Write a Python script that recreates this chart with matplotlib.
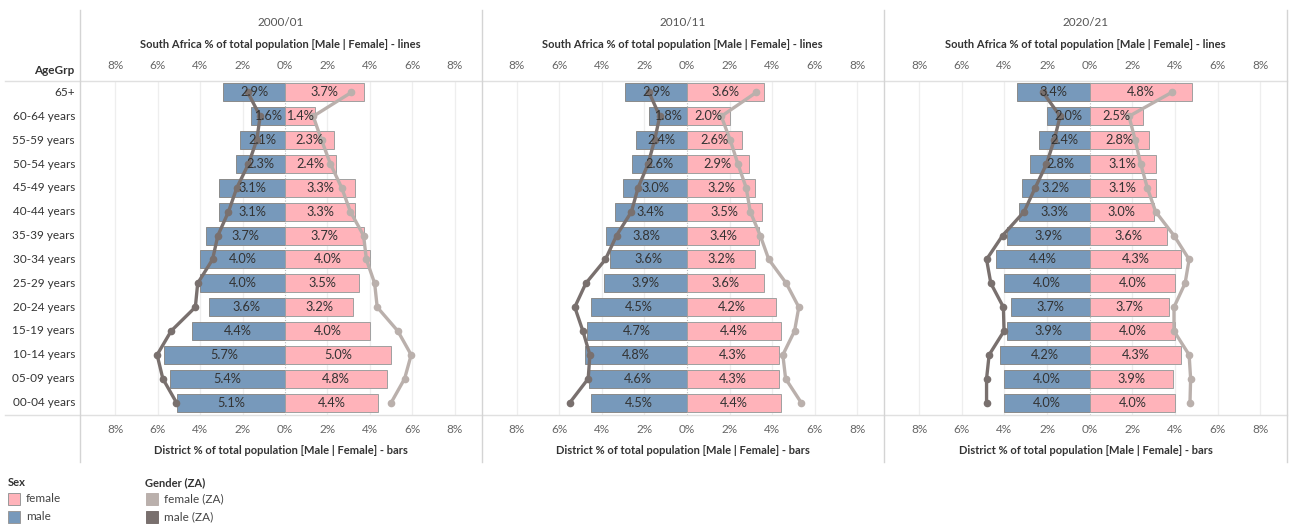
import numpy as np
import matplotlib
matplotlib.use("Agg")
import matplotlib.pyplot as plt
from matplotlib.lines import Line2D
from matplotlib.patches import Rectangle

plt.rcParams['font.family'] = ['Lato', 'DejaVu Sans']

age_groups = ["65+", "60-64 years", "55-59 years", "50-54 years", "45-49 years",
              "40-44 years", "35-39 years", "30-34 years", "25-29 years", "20-24 years",
              "15-19 years", "10-14 years", "05-09 years", "00-04 years"]
years = ["2000/01", "2010/11", "2020/21"]

# district bars (%)
male_2000 = [2.9, 1.6, 2.1, 2.3, 3.1, 3.1, 3.7, 4.0, 4.0, 3.6, 4.4, 5.7, 5.4, 5.1]
female_2000 = [3.7, 1.4, 2.3, 2.4, 3.3, 3.3, 3.7, 4.0, 3.5, 3.2, 4.0, 5.0, 4.8, 4.4]
male_2010 = [2.9, 1.8, 2.4, 2.6, 3.0, 3.4, 3.8, 3.6, 3.9, 4.5, 4.7, 4.8, 4.6, 4.5]
female_2010 = [3.6, 2.0, 2.6, 2.9, 3.2, 3.5, 3.4, 3.2, 3.6, 4.2, 4.4, 4.3, 4.3, 4.4]
male_2020 = [3.4, 2.0, 2.4, 2.8, 3.2, 3.3, 3.9, 4.4, 4.0, 3.7, 3.9, 4.2, 4.0, 4.0]
female_2020 = [4.8, 2.5, 2.8, 3.1, 3.1, 3.0, 3.6, 4.3, 4.0, 3.7, 4.0, 4.3, 3.9, 4.0]

# South Africa lines (%)
za_male_2000 = [1.75, 1.17, 1.33, 1.72, 2.27, 2.66, 3.16, 3.41, 4.11, 4.22, 5.36, 6.02, 5.75, 5.11]
za_female_2000 = [3.12, 1.33, 1.72, 2.14, 2.67, 3.08, 3.70, 3.83, 4.22, 4.34, 5.31, 5.94, 5.63, 5.00]
za_male_2010 = [1.78, 1.28, 1.52, 1.83, 2.30, 2.61, 3.31, 3.83, 4.75, 5.27, 4.89, 4.56, 4.64, 5.50]
za_female_2010 = [3.25, 1.61, 2.03, 2.39, 2.78, 2.97, 3.44, 3.84, 4.66, 5.25, 5.05, 4.50, 4.63, 5.36]
za_male_2020 = [2.19, 1.39, 1.67, 2.03, 2.56, 3.08, 4.09, 4.84, 4.64, 4.05, 4.02, 4.72, 4.84, 4.84]
za_female_2020 = [3.84, 1.84, 2.13, 2.39, 2.70, 3.09, 3.95, 4.66, 4.47, 3.95, 3.95, 4.66, 4.73, 4.70]

bars_m = [male_2000, male_2010, male_2020]
bars_f = [female_2000, female_2010, female_2020]
lines_m = [za_male_2000, za_male_2010, za_male_2020]
lines_f = [za_female_2000, za_female_2010, za_female_2020]

c_male = "#7799bb"
c_female = "#ffb3ba"
c_za_male = "#79706e"
c_za_female = "#bab0ac"
txt = "#333333"
tick_c = "#666666"
sep = "#d4d4d4"

W, H = 1293, 527
fig = plt.figure(figsize=(W / 100, H / 100), dpi=100)


def fx(px):
    return px / W


def fy(py):
    return 1 - py / H


panel_edges = [80, 481.5, 884, 1287]
top_px, bot_px = 80.5, 414.5
ticks = [-8, -6, -4, -2, 0, 2, 4, 6, 8]
ypos = np.arange(len(age_groups))

for i in range(3):
    x0, x1 = panel_edges[i], panel_edges[i + 1]
    ax = fig.add_axes([fx(x0), fy(bot_px), fx(x1 - x0), (bot_px - top_px) / H])
    ax.set_xlim(-9.65, 9.25)
    ax.set_ylim(len(age_groups) - 0.5, -0.5)
    for t in ticks:
        if t == 0:
            ax.axvline(0, color="#bbbbbb", lw=0.8, ls=(0, (1, 1.5)), zorder=1)
        else:
            ax.axvline(t, color="#eeeeee", lw=0.9, zorder=0)
    m = np.array(bars_m[i])
    f = np.array(bars_f[i])
    ax.barh(ypos, -m, height=0.76, color=c_male, edgecolor="#8a8a8a", lw=0.7, zorder=2)
    ax.barh(ypos, f, height=0.76, color=c_female, edgecolor="#a0a0a0", lw=0.7, zorder=2)
    ax.plot(-np.array(lines_m[i]), ypos, color=c_za_male, lw=2.4, marker="o", ms=4.5, zorder=4)
    ax.plot(lines_f[i], ypos, color=c_za_female, lw=2.4, marker="o", ms=4.5, zorder=4)
    for y, v in zip(ypos, m):
        ax.text(-v / 2, y, f"{v:.1f}%", ha="center", va="center", fontsize=9.2, color=txt, zorder=5)
    for y, v in zip(ypos, f):
        ax.text(v / 2, y, f"{v:.1f}%", ha="center", va="center", fontsize=9.2, color=txt, zorder=5)
    ax.set_xticks(ticks)
    ax.set_xticklabels([f"{abs(t)}%" for t in ticks])
    ax.tick_params(axis="x", length=0, labelsize=8.5, labelcolor=tick_c, pad=7,
                   top=False, labeltop=True, bottom=False, labelbottom=True)
    ax.set_yticks([])
    for s in ax.spines.values():
        s.set_visible(False)
    cx = (x0 + x1) / 2
    fig.text(fx(cx), fy(22), years[i], ha="center", va="center", fontsize=8.5, color="#555555")
    fig.text(fx(cx), fy(44), "South Africa % of total population [Male | Female] - lines",
             ha="center", va="center", fontsize=8, fontweight="bold", color=txt)
    fig.text(fx(cx), fy(450), "District % of total population [Male | Female] - bars",
             ha="center", va="center", fontsize=8, fontweight="bold", color=txt)

# row labels
row_h = (bot_px - top_px) / len(age_groups)
for k, lab in enumerate(age_groups):
    fig.text(fx(75), fy(top_px + row_h * (k + 0.5)), lab, ha="right", va="center",
             fontsize=8.5, color=txt)
fig.text(fx(74), fy(70), "AgeGrp", ha="right", va="center", fontsize=8.5,
         fontweight="bold", color=txt)

# separators
for yy in (top_px, bot_px):
    fig.add_artist(Line2D([fx(5), fx(1287)], [fy(yy), fy(yy)], color="#e0e0e0", lw=1))
for xx in panel_edges:
    fig.add_artist(Line2D([fx(xx), fx(xx)], [fy(10), fy(462)], color=sep, lw=1))

# legends
fig.text(fx(8), fy(483), "Sex", ha="left", va="center", fontsize=8, fontweight="bold", color=txt)
fig.text(fx(145), fy(483), "Gender (ZA)", ha="left", va="center", fontsize=8,
         fontweight="bold", color=txt)
legend_items = [(8, 499, c_female, "female"), (8, 517, c_male, "male"),
                (146, 499, c_za_female, "female (ZA)"), (146, 517, c_za_male, "male (ZA)")]
for lx, ly, col, lab in legend_items:
    fig.add_artist(Rectangle((fx(lx), fy(ly + 6)), fx(12), 12 / H, facecolor=col,
                             edgecolor="#999999" if lx < 100 else col, lw=0.7))
    fig.text(fx(lx + 18), fy(ly), lab, ha="left", va="center", fontsize=8.5, color="#444444")

fig.savefig("out.png", dpi=100)
